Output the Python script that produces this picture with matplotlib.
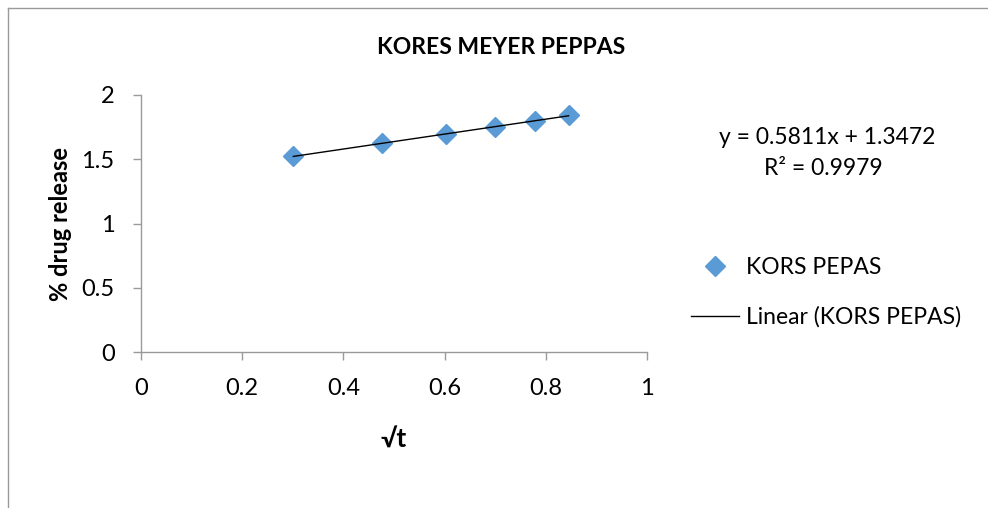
import numpy as np
import matplotlib.pyplot as plt
from matplotlib.lines import Line2D

plt.rcParams['font.family'] = ['Lato', 'DejaVu Sans']

# data (x = log t, y = log % release)
sqrt_t = [0.301, 0.477, 0.602, 0.699, 0.778, 0.845]
drug_release = [1.525, 1.624, 1.695, 1.752, 1.799, 1.843]
slope = 0.5811
intercept = 1.3472
r_squared = 0.9979

blue = '#5B9BD5'
grey = '#9A9A9A'

fig = plt.figure(figsize=(9.88, 5.08), dpi=100)
ax = fig.add_axes([0.1427, 0.307, 0.5122, 0.506])

ax.plot(sqrt_t, drug_release, linestyle='none', marker='D', markersize=10.5,
        color=blue, label='KORS PEPAS', zorder=3)
fit_x = np.array([min(sqrt_t), max(sqrt_t)])
ax.plot(fit_x, slope * fit_x + intercept, color='black', linewidth=1,
        label='Linear (KORS PEPAS)', zorder=4)

ax.set_xlim(0, 1)
ax.set_ylim(0, 2)
ax.set_xticks(np.arange(0, 1.01, 0.2))
ax.set_xticklabels(['0', '0.2', '0.4', '0.6', '0.8', '1'])
ax.set_yticks([0, 0.5, 1, 1.5, 2])
ax.set_yticklabels(['0', '0.5', '1', '1.5', '2'])
for s in ['top', 'right']:
    ax.spines[s].set_visible(False)
for s in ['left', 'bottom']:
    ax.spines[s].set_color(grey)
    ax.spines[s].set_linewidth(1)
ax.tick_params(axis='both', direction='out', length=6, color=grey,
               labelsize=17, width=1)
ax.tick_params(axis='x', pad=13)
ax.tick_params(axis='y', pad=13)

ax.set_xlabel('√t', fontsize=19, fontweight='bold', labelpad=20)
ax.set_ylabel('% drug release', fontsize=17, fontweight='bold', labelpad=7)
fig.text(0.507, 0.907, 'KORES MEYER PEPPAS', fontsize=16.5, fontweight='bold',
         ha='center', va='center')

fig.text(0.837, 0.730, f'y = {slope}x + {intercept}', fontsize=16.5,
         ha='center', va='center')
fig.text(0.833, 0.668, f'R² = {r_squared}', fontsize=16.5,
         ha='center', va='center')

leg = fig.legend(loc='center left', bbox_to_anchor=(0.699, 0.424),
                 frameon=False, fontsize=16.5, handlelength=2.1,
                 handletextpad=0.3, labelspacing=1.22,
                 borderpad=0, borderaxespad=0)

# chart area border
fig.add_artist(Line2D([0.0081, 0.0081], [0, 0.984], color=grey, lw=1))
fig.add_artist(Line2D([0.0081, 1], [0.984, 0.984], color=grey, lw=1))

fig.savefig('out.png', dpi=100, facecolor='white')
